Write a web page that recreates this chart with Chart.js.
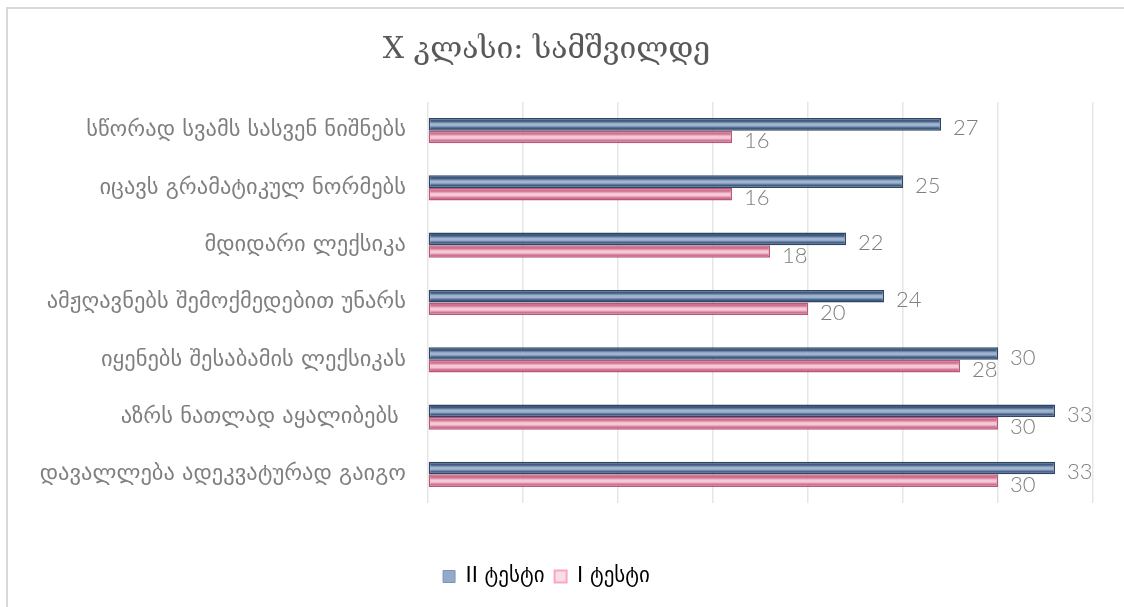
<!DOCTYPE html>
<html>
<head>
<meta charset="utf-8">
<script src="https://cdn.jsdelivr.net/npm/chart.js@4.4.1/dist/chart.umd.min.js"></script>
<style>
  html, body { margin: 0; padding: 0; background: #fff; overflow: hidden; }
  .frame {
    position: absolute; left: 6px; top: 7px; width: 1116px; height: 598px;
    border-top: 2px solid #d9d9d9; border-left: 2px solid #d9d9d9;
  }
  #chart { position: absolute; left: 0; top: 0; }
</style>
</head>
<body>
<div class="frame"></div>
<canvas id="chart" width="1124" height="607"></canvas>
<script>
const categories = [
    'სწორად სვამს სასვენ ნიშნებს',
    'იცავს გრამატიკულ ნორმებს',
    'მდიდარი ლექსიკა',
    'ამჟღავნებს შემოქმედებით უნარს',
    'იყენებს შესაბამის ლექსიკას',
    'აზრს ნათლად აყალიბებს ',
    'დავალლება ადეკვატურად გაიგო'
];
const test2 = [27, 25, 22, 24, 30, 33, 33];
const test1 = [16, 16, 18, 20, 28, 30, 30];
const seriesNames = ['II ტესტი', 'I ტესტი'];

const geo = '"DejaVu Sans", sans-serif';
const textColor = '#7f7f7f';

// tube-like shading across each bar's thickness
function tube(dark, light) {
    return (ctx) => {
        const el = ctx.element;
        if (!el || el.y === undefined || !el.height) return light;
        const c = ctx.chart.ctx;
        const h = el.height;
        const g = c.createLinearGradient(0, el.y - h / 2, 0, el.y + h / 2);
        g.addColorStop(0, dark);
        g.addColorStop(0.25, dark);
        g.addColorStop(0.45, light);
        g.addColorStop(0.6, light);
        g.addColorStop(0.8, dark);
        g.addColorStop(1, dark);
        return g;
    };
}

// value text at the end of each bar
const valueLabels = {
    id: 'valueLabels',
    afterDatasetsDraw(chart) {
        const c = chart.ctx;
        c.save();
        c.font = '300 22px Lato, ' + geo;
        c.fillStyle = textColor;
        c.textBaseline = 'middle';
        chart.data.datasets.forEach((ds, i) => {
            chart.getDatasetMeta(i).data.forEach((bar, j) => {
                c.fillText(ds.data[j], bar.x + 12, bar.y + 4);
            });
        });
        c.restore();
    }
};

const chart = new Chart(document.getElementById('chart'), {
    type: 'bar',
    data: {
        labels: categories,
        datasets: [{
            label: seriesNames[0],
            data: test2,
            backgroundColor: tube('#3f5a7f', '#a0b4d1'),
            borderColor: '#2f4566',
            borderWidth: 1.5,
            borderSkipped: false,
            categoryPercentage: 0.44,
            barPercentage: 1.0
        }, {
            label: seriesNames[1],
            data: test1,
            backgroundColor: tube('#cd6f8d', '#f6c9d7'),
            borderColor: '#b9577a',
            borderWidth: 1.5,
            borderSkipped: false,
            categoryPercentage: 0.44,
            barPercentage: 1.0
        }]
    },
    options: {
        indexAxis: 'y',
        responsive: false,
        animation: false,
        layout: { padding: { left: 0, right: 31, top: 0, bottom: 10 } },
        scales: {
            x: {
                min: 0,
                max: 35,
                ticks: { stepSize: 5, display: false },
                grid: { color: '#e6e6e6', lineWidth: 1.5, drawTicks: false },
                border: { display: false },
                afterFit: (s) => { s.height = 53; }
            },
            y: {
                grid: { display: false },
                border: { display: false },
                ticks: {
                    color: textColor,
                    font: { family: geo, size: 22.5 },
                    padding: 14
                },
                afterFit: (s) => { s.width = 428; }
            }
        },
        plugins: {
            title: {
                display: true,
                text: 'X კლასი: სამშვილდე',
                color: '#595959',
                font: { family: '"DejaVu Serif", ' + geo, size: 30, weight: 'normal' },
                padding: { top: 32, bottom: 34 }
            },
            legend: {
                position: 'bottom',
                labels: {
                    color: textColor,
                    font: { family: geo, size: 21 },
                    boxWidth: 12,
                    boxHeight: 12,
                    padding: 10,
                    generateLabels: () => [
                        { text: seriesNames[0], fillStyle: '#95aacb', strokeStyle: '#7d93b8', lineWidth: 1, datasetIndex: 0 },
                        { text: seriesNames[1], fillStyle: '#fbdde9', strokeStyle: '#f5a9c3', lineWidth: 2, datasetIndex: 1 }
                    ]
                }
            },
            tooltip: { enabled: false }
        }
    },
    plugins: [valueLabels]
});
chart.update();
</script>
</body>
</html>
